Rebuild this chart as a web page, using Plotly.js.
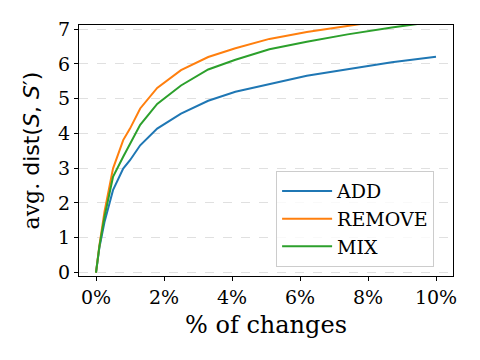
<!DOCTYPE html>
<html>
<head>
<meta charset="utf-8">
<script src="https://cdn.plot.ly/plotly-3.0.1.min.js"></script>
<style>
  html, body { margin: 0; padding: 0; background: #fff; }
  #chart { width: 480px; height: 360px; }
</style>
</head>
<body>
<div id="chart"></div>
<script>
// % of changes (x) and avg. dist for each kind of change
const changes = [0, 0.1, 0.25, 0.5, 0.8, 1.0, 1.3, 1.8, 2.5, 3.3, 4.1, 5.1, 6.2, 7.4, 8.7, 10];
const addDist = [0, 0.72, 1.45, 2.37, 2.99, 3.23, 3.66, 4.14, 4.57, 4.94, 5.2, 5.42, 5.66, 5.85, 6.05, 6.21];
const removeDist = [0, 0.78, 1.75, 2.99, 3.81, 4.14, 4.72, 5.31, 5.82, 6.2, 6.45, 6.72, 6.92, 7.1, 7.28, 7.42];
const mixDist = [0, 0.75, 1.6, 2.75, 3.33, 3.71, 4.25, 4.85, 5.38, 5.84, 6.12, 6.42, 6.64, 6.85, 7.05, 7.22];
const yTicks = [0, 1, 2, 3, 4, 5, 6, 7];
const xTicks = [0, 2, 4, 6, 8, 10];

const serif = 'DejaVu Serif, serif';

const data = [
  { x: changes, y: addDist, name: 'ADD', mode: 'lines', line: { color: '#1f77b4', width: 2 } },
  { x: changes, y: removeDist, name: 'REMOVE', mode: 'lines', line: { color: '#ff7f0e', width: 2 } },
  { x: changes, y: mixDist, name: 'MIX', mode: 'lines', line: { color: '#2ca02c', width: 2 } },
];

const layout = {
  width: 480,
  height: 360,
  margin: { l: 79, r: 27, t: 25, b: 84 },
  paper_bgcolor: '#fff',
  plot_bgcolor: '#fff',
  font: { family: serif, size: 19, color: '#000' },
  showlegend: true,
  legend: {
    x: 0.527, y: 0.418, xanchor: 'left', yanchor: 'top',
    bgcolor: 'rgba(255,255,255,0.8)',
    bordercolor: '#cccccc', borderwidth: 1,
    itemwidth: 50,
    entrywidth: 163,
    font: { family: serif, size: 19 },
  },
  xaxis: {
    range: [-0.5, 10.5],
    tickvals: xTicks,
    ticktext: xTicks.map((v) => v + '%'),
    ticks: 'outside', ticklen: 4, tickcolor: '#000',
    showline: true, mirror: true, linecolor: '#000', linewidth: 1.2,
    showgrid: false, zeroline: false,
    tickfont: { family: serif, size: 19 },
    title: { text: '% of changes', font: { family: serif, size: 24 }, standoff: 9 },
  },
  yaxis: {
    range: [-0.1, 7.12],
    tickvals: yTicks,
    ticks: 'outside', ticklen: 4, tickcolor: '#000',
    showline: true, mirror: true, linecolor: '#000', linewidth: 1.2,
    showgrid: true, gridcolor: '#e0e0e0', griddash: 'dash', gridwidth: 1,
    zeroline: false,
    tickfont: { family: serif, size: 19 },
    title: {
      text: "avg. <span style='font-family:DejaVu Sans'>dist(<i>S</i>, <i>S</i>′)</span>",
      font: { family: serif, size: 22 },
      standoff: 12,
    },
  },
};

Plotly.newPlot('chart', data, layout, { displayModeBar: false, staticPlot: true });
</script>
</body>
</html>
